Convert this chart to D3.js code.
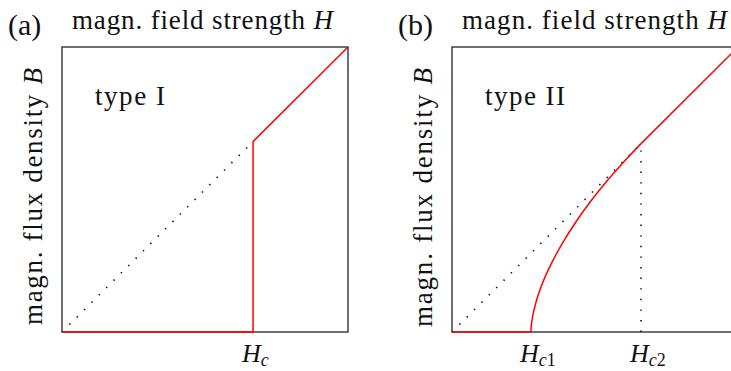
<!DOCTYPE html>
<html>
<head>
<meta charset="utf-8">
<script src="https://cdn.jsdelivr.net/npm/d3@7"></script>
<style>
  html, body { margin: 0; padding: 0; background: #fff; }
  svg { display: block; }
  text { font-family: "Liberation Serif", "Times New Roman", serif; fill: #111; }
</style>
</head>
<body>
<svg id="chart" width="731" height="371"></svg>
<script>
// Critical fields (fraction of the H axis range)
const typeIField = 0.668;            // H_c
const typeIIFields = [0.276, 0.661]; // H_c1, H_c2

// Mixed-state branch of the type II curve, H_c1 -> H_c2
const mixedH = [0.276, 0.2765, 0.279, 0.284, 0.293, 0.308, 0.328, 0.356, 0.393, 0.433, 0.483, 0.533, 0.583, 0.623, 0.661];
const mixedB = [0.000, 0.012, 0.036, 0.065, 0.102, 0.149, 0.199, 0.257, 0.323, 0.386, 0.456, 0.519, 0.577, 0.621, 0.661];

const panelLetters = ["(a)", "(b)"];
const panelTypes = ["type I", "type II"];
const xTitle = "magn. field strength ";
const yTitle = "magn. flux density ";

const svg = d3.select("#chart");
const red = "#ff0000";

function panel(left, idx) {
  const x = d3.scaleLinear().domain([0, 1]).range([left, left + 286]);
  const y = d3.scaleLinear().domain([0, 1]).range([332, 47]);
  const g = svg.append("g");

  // panel letter and H-axis title
  g.append("text").attr("x", x(0) - 54).attr("y", 35)
    .attr("font-size", 30).text(panelLetters[idx]);
  const t = g.append("text").attr("x", x(0) + 10).attr("y", 29)
    .attr("font-size", 27);
  t.append("tspan").text(xTitle);
  t.append("tspan").attr("font-style", "italic").text("H");
  t.attr("textLength", idx ? 265 : 261).attr("lengthAdjust", "spacing");

  // B-axis title
  const yl = g.append("text")
    .attr("transform", `translate(${x(0) - 20},${idx ? 197.5 : 196.5}) rotate(-90)`)
    .attr("text-anchor", "middle").attr("font-size", 27);
  yl.append("tspan").text(yTitle);
  yl.append("tspan").attr("font-style", "italic").text("B");
  yl.attr("textLength", idx ? 259 : 257).attr("lengthAdjust", "spacing");

  // type label
  g.append("text").attr("x", x(0) + 33).attr("y", 105).attr("font-size", 27)
    .attr("textLength", idx ? 80 : 70).attr("lengthAdjust", "spacing")
    .text(panelTypes[idx]);

  return { g, x, y };
}

function fieldLabel(g, xpos, sub) {
  const lab = g.append("text").attr("x", xpos - 11).attr("y", 362).attr("font-size", 26);
  lab.append("tspan").attr("font-style", "italic").text("H");
  const s = lab.append("tspan").attr("dy", 4).attr("font-size", 18);
  s.append("tspan").attr("font-style", "italic").text("c");
  if (sub) s.append("tspan").text(sub);
}

function frame(g, x, y) {
  g.append("rect")
    .attr("x", x(0)).attr("y", y(1))
    .attr("width", x(1) - x(0)).attr("height", y(0) - y(1))
    .attr("fill", "none").attr("stroke", "#333").attr("stroke-width", 1.4);
}

const line = (x, y) => d3.line().x(d => x(d[0])).y(d => y(d[1]));

// ---- (a) type I ----
{
  const { g, x, y } = panel(62, 0);
  frame(g, x, y);
  g.append("path").datum([[0, 0], [typeIField, typeIField]])
    .attr("d", line(x, y)).attr("fill", "none")
    .attr("stroke", "#111").attr("stroke-width", 1.6)
    .attr("stroke-dasharray", "1.4 9");
  g.append("path")
    .datum([[0, 0], [typeIField, 0], [typeIField, typeIField], [1, 1]])
    .attr("d", line(x, y)).attr("fill", "none")
    .attr("stroke", red).attr("stroke-width", 1.5);
  fieldLabel(g, x(typeIField), "");
}

// ---- (b) type II ----
{
  const { g, x, y } = panel(452, 1);
  frame(g, x, y);
  const [hc1, hc2] = typeIIFields;
  g.append("path").datum([[0, 0], [hc2, hc2]])
    .attr("d", line(x, y)).attr("fill", "none")
    .attr("stroke", "#111").attr("stroke-width", 1.6)
    .attr("stroke-dasharray", "1.4 9");
  g.append("path").datum([[hc2, 0], [hc2, hc2]])
    .attr("d", line(x, y)).attr("fill", "none")
    .attr("stroke", "#111").attr("stroke-width", 1.6)
    .attr("stroke-dasharray", "1.4 9.2");

  const mixed = mixedH.map((h, i) => [h, mixedB[i]]);
  g.append("path").datum([[0, 0], [hc1, 0]])
    .attr("d", line(x, y)).attr("fill", "none")
    .attr("stroke", red).attr("stroke-width", 1.5);
  g.append("path").datum(mixed)
    .attr("d", line(x, y).curve(d3.curveMonotoneX)).attr("fill", "none")
    .attr("stroke", red).attr("stroke-width", 1.5);
  g.append("path").datum([[hc2, hc2], [1, 1]])
    .attr("d", line(x, y)).attr("fill", "none")
    .attr("stroke", red).attr("stroke-width", 1.5);
  fieldLabel(g, x(hc1), "1");
  fieldLabel(g, x(hc2), "2");
}
</script>
</body>
</html>
